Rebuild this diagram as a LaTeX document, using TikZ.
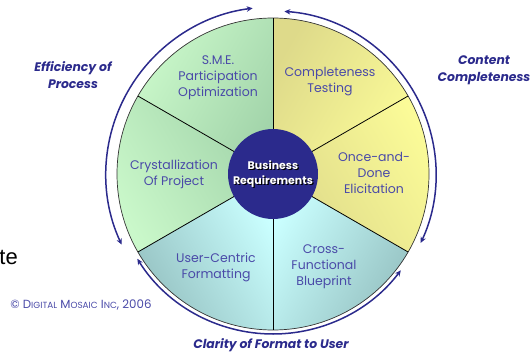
\documentclass[tikz,border=0pt]{standalone}
\usepackage{fontspec}
\setsansfont{Poppins}
\newfontfamily\arialfont{Liberation Sans}
\usetikzlibrary{arrows.meta,calc}

\definecolor{navy}{HTML}{2B2A8C}
\definecolor{labelblue}{HTML}{4A4AA8}
\definecolor{greenlight}{HTML}{CAF8CA}
\definecolor{greendark}{HTML}{A2D4AA}
\definecolor{yellowlight}{HTML}{FBFB98}
\definecolor{yellowdark}{HTML}{DEDA8A}
\definecolor{cyanlight}{HTML}{CAFFFF}
\definecolor{cyandark}{HTML}{96C2C2}

\newcommand{\fakesc}[2]{#1{\fontsize{8.9}{9}\selectfont #2}}

\begin{document}
\begin{tikzpicture}[
        x=1pt, y=1pt,
        thick,
        font=\sffamily
    ]
    \tikzset{
        seclabel/.style = {align=center, text=labelblue, font=\sffamily\fontsize{12.5}{16}\selectfont},
        outlabel/.style = {align=center, text=navy, font=\sffamily\bfseries\itshape\fontsize{12.4}{16.5}\selectfont},
        hublabel/.style = {align=center, font=\sffamily\bfseries\fontsize{11}{15}\selectfont},
        divider/.style = {-, black, line width=0.8pt},
        cycler/.style = {{Stealth[length=6pt,width=5.5pt]}-{Stealth[length=6pt,width=5.5pt]}, navy, line width=1.5pt},
    }
    \useasboundingbox (0,0) rectangle (532,354);
    \coordinate (c) at (273,180);
    % sectors
    \shade[left color=greenlight, right color=greendark, shading angle=60]
        (c) -- ++(90:156) arc[start angle=90, end angle=150, radius=156] -- cycle;
    \shade[left color=greenlight, right color=greendark, shading angle=120]
        (c) -- ++(150:156) arc[start angle=150, end angle=210, radius=156] -- cycle;
    \shade[left color=cyandark, right color=cyanlight, shading angle=120]
        (c) -- ++(210:156) arc[start angle=210, end angle=270, radius=156] -- cycle;
    \shade[left color=cyanlight, right color=cyandark, shading angle=60]
        (c) -- ++(270:156) arc[start angle=270, end angle=330, radius=156] -- cycle;
    \shade[left color=yellowdark, right color=yellowlight, shading angle=120]
        (c) -- ++(330:156) arc[start angle=330, end angle=390, radius=156] -- cycle;
    \shade[left color=yellowdark, right color=yellowlight, shading angle=60]
        (c) -- ++(30:156) arc[start angle=30, end angle=90, radius=156] -- cycle;
    \draw[black!80, line width=0.7pt] (c) circle[radius=156];
    %
    \foreach \a in {30,90,...,330}
        \draw[divider] (c) -- ++(\a:156);
    %
    \node[circle, fill=navy, minimum size=90pt, inner sep=0pt] (hub) at (c) {};
    \node[hublabel, text=black] at ($(c)+(1.2,-1.2)$) (hubshadow) {Business\\Requirements};
    \node[hublabel, text=white] at (c) (hubtext) {Business\\Requirements};
    %
    \node[seclabel] at (218,276) (sme) {S.M.E.\\Participation\\Optimization};
    \node[seclabel] at (330,272) (compl) {Completeness\\Testing};
    \node[seclabel] at (374,181) (once) {Once-and-\\Done\\Elicitation};
    \node[seclabel] at (324,87) (cross) {Cross-\\Functional\\Blueprint};
    \node[seclabel] at (216,87) (user) {User-Centric\\Formatting};
    \node[seclabel] at (174,180) (cryst) {Crystallization\\Of Project};
    %
    \draw[cycler] (c) ++(205:167) arc[start angle=205, end angle=97, radius=167];
    \draw[cycler] (c) ++(86:163) arc[start angle=86, end angle=-25, radius=163];
    \draw[cycler] (c) ++(212:160) arc[start angle=212, end angle=323, radius=160];
    %
    \node[outlabel] at (73,279) (eff) {Efficiency of\\Process};
    \node[outlabel] at (484,284) (content) {Content\\Completeness};
    \node[outlabel] at (271,8.5) (clarity) {Clarity of Format to User};
    %
    \node[text=labelblue, font=\sffamily\fontsize{11.8}{12}\selectfont, anchor=west, inner sep=0pt]
        at (10,49) (copy) {\textcopyright\ \fakesc{D}{IGITAL} \fakesc{M}{OSAIC} \fakesc{I}{NC}, 2006};
    \node[font=\arialfont\fontsize{22}{24}\selectfont, anchor=west, inner sep=0pt] at (-1,97) (te) {te};
\end{tikzpicture}
\end{document}
